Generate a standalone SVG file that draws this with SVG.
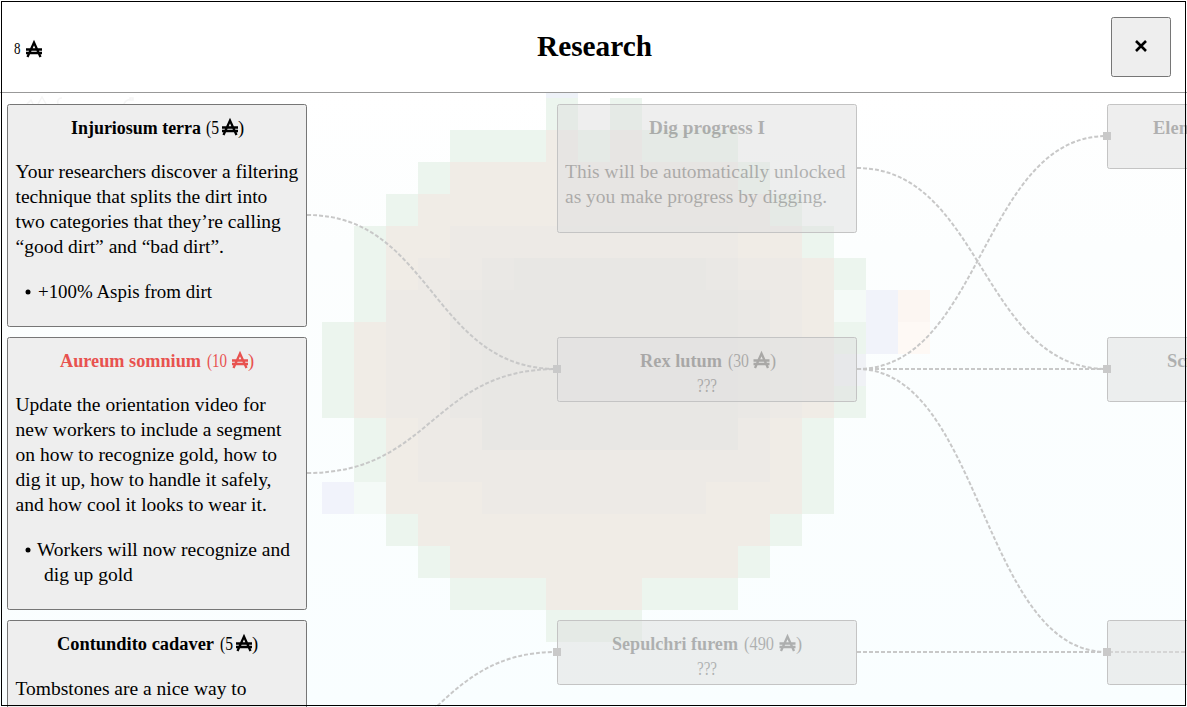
<svg xmlns="http://www.w3.org/2000/svg" width="1187" height="707" viewBox="0 0 1187 707">
<defs>
<linearGradient id="bg" x1="0" y1="93" x2="0" y2="707" gradientUnits="userSpaceOnUse"><stop offset="0" stop-color="#ffffff"/><stop offset="0.25" stop-color="#fcfefe"/><stop offset="1" stop-color="#f9feff"/></linearGradient>
<symbol id="aspis" viewBox="0 0 16 16" overflow="visible"><path d="M1.500 16L8 1.500L14.500 16M0 8.500H16M0 12H16" fill="none" stroke="currentColor" stroke-width="2.300"/></symbol>
</defs>
<style>
text{font-family:"Liberation Serif","DejaVu Serif",serif;fill:#000}
.t{font-size:18.5px;font-weight:700}
.p{font-size:18.5px;font-weight:400}
.b{font-size:19.5px}
.g{fill:#ecf5ee}.tn{fill:#f0ece6}.m{fill:#edeae6}.c{fill:#eae8e5}.d{fill:#e8e7e4}
.card{fill:#eeeeee;stroke:#767676;stroke-width:1}
.ghost{fill:#e0e0e0;fill-opacity:.55;stroke:#c4c4c4;stroke-width:1}
.faded text{opacity:.26}
.faded use{opacity:.26}
.link{fill:none;stroke:#c8c8c8;stroke-width:2;stroke-dasharray:4 2}
.port{fill:#c9c9c9}
</style>
<rect width="1187" height="707" fill="#ffffff"/>
<rect y="93" width="1187" height="614" fill="url(#bg)"/>
<path d="M27 104L31 100L33 104M38 104L42 97L46 104M62 98C58 98 57 101 58 104M124 104C125 100 128 100 131 99M130 98h3v2h-3z" fill="none" stroke="#f5f5f5" stroke-width="1.500"/>
<g id="pixel-art">
<rect x="546" y="93" width="32" height="5" fill="#eef2f8"/><rect class="g" x="546" y="98" width="32" height="32"/><rect class="g" x="610" y="98" width="32" height="32"/>
<rect class="g" x="450" y="130" width="96" height="32"/><rect class="tn" x="546" y="130" width="32" height="32"/><rect class="g" x="578" y="130" width="32" height="32"/><rect class="tn" x="610" y="130" width="32" height="32"/><rect class="g" x="642" y="130" width="96" height="32"/>
<rect class="g" x="418" y="162" width="32" height="32"/><rect class="tn" x="450" y="162" width="288" height="32"/><rect class="g" x="738" y="162" width="32" height="32"/>
<rect class="g" x="386" y="194" width="32" height="32"/><rect class="tn" x="418" y="194" width="352" height="32"/><rect class="g" x="770" y="194" width="32" height="32"/>
<rect class="g" x="354" y="226" width="32" height="96"/><rect class="tn" x="386" y="226" width="416" height="32"/><rect class="g" x="802" y="226" width="32" height="32"/>
<rect class="tn" x="386" y="258" width="448" height="64"/><rect class="g" x="834" y="258" width="32" height="32"/>
<rect x="834" y="290" width="32" height="32" fill="#f4faf7"/><rect x="866" y="290" width="32" height="64" fill="#f1f3fa"/><rect x="898" y="290" width="32" height="32" fill="#fcf6f2"/><rect x="898" y="322" width="32" height="32" fill="#fef9f5"/>
<rect class="g" x="834" y="322" width="32" height="32"/>
<rect class="g" x="322" y="322" width="32" height="96"/><rect class="tn" x="354" y="322" width="480" height="96"/>
<rect x="834" y="354" width="32" height="32" fill="#f0f2f6"/><rect class="g" x="834" y="386" width="32" height="32"/>
<rect class="g" x="354" y="418" width="32" height="64"/><rect class="tn" x="386" y="418" width="416" height="96"/><rect class="g" x="802" y="418" width="32" height="96"/>
<rect x="322" y="482" width="32" height="32" fill="#f1f3fb"/><rect x="354" y="482" width="32" height="32" fill="#f4faf7"/>
<rect class="g" x="386" y="514" width="32" height="32"/><rect class="tn" x="418" y="514" width="352" height="32"/><rect class="g" x="770" y="514" width="32" height="32"/>
<rect class="g" x="418" y="546" width="32" height="32"/><rect class="tn" x="450" y="546" width="288" height="32"/><rect class="g" x="738" y="546" width="32" height="32"/>
<rect class="g" x="450" y="578" width="96" height="32"/><rect class="tn" x="546" y="578" width="96" height="32"/><rect class="g" x="642" y="578" width="96" height="32"/>
<rect class="g" x="546" y="610" width="96" height="32"/>
<rect class="m" x="450" y="226" width="288" height="32"/><rect class="m" x="386" y="290" width="416" height="128"/><rect class="m" x="418" y="258" width="384" height="32"/><rect class="m" x="418" y="418" width="352" height="64"/><rect class="m" x="482" y="482" width="224" height="32"/>
<rect class="c" x="482" y="258" width="256" height="32"/><rect class="c" x="450" y="290" width="320" height="128"/><rect class="c" x="482" y="418" width="256" height="32"/>
<rect class="d" x="514" y="258" width="192" height="32"/><rect class="d" x="482" y="290" width="256" height="160"/>
</g>
<g id="connectors">
<path class="link" d="M307 215C432 215 432 369 557 369"/>
<path class="link" d="M307 473C432 473 432 369 557 369"/>
<path class="link" d="M857 168C982 168 982 369 1107 369"/>
<path class="link" d="M857 369C982 369 982 136 1107 136"/>
<path class="link" d="M857 369H1107"/>
<path class="link" d="M857 369C982 369 982 652 1107 652"/>
<path class="link" d="M857 652H1187"/>
<path class="link" d="M307 770C432 770 432 652 557 652"/>
</g>
<g id="node-dig" class="faded"><rect class="ghost" x="557.500" y="104.500" width="299" height="128" rx="2"/><text class="t" x="649" y="134" textLength="116" lengthAdjust="spacingAndGlyphs">Dig progress I</text><text class="b" x="565" y="178">This will be automatically unlocked</text><text class="b" x="565" y="203">as you make progress by digging.</text></g>
<g id="node-rex" class="faded"><rect class="ghost" x="557.500" y="337.500" width="299" height="64" rx="2"/><text class="t" x="640" y="367" textLength="82" lengthAdjust="spacingAndGlyphs">Rex lutum</text><text class="p" x="728" y="367" textLength="21" lengthAdjust="spacingAndGlyphs">(30</text><use href="#aspis" x="753" y="352" width="17" height="16" color="#000"/><text class="p" x="770" y="367">)</text><text class="p" x="697" y="392" textLength="20" lengthAdjust="spacingAndGlyphs">???</text></g>
<g id="node-sepulchri" class="faded"><rect class="ghost" x="557.500" y="620.500" width="299" height="64" rx="2"/><text class="t" x="612" y="650" textLength="126" lengthAdjust="spacingAndGlyphs">Sepulchri furem</text><text class="p" x="744" y="650" textLength="30" lengthAdjust="spacingAndGlyphs">(490</text><use href="#aspis" x="779" y="635" width="17" height="16" color="#000"/><text class="p" x="796" y="650">)</text><text class="p" x="697" y="675" textLength="20" lengthAdjust="spacingAndGlyphs">???</text></g>
<g id="node-elem" class="faded"><rect class="ghost" x="1107.500" y="104.500" width="299" height="64" rx="2"/><text class="t" x="1153" y="134">Elen</text></g>
<g id="node-sc" class="faded"><rect class="ghost" x="1107.500" y="337.500" width="299" height="64" rx="2"/><text class="t" x="1167" y="367">Sci</text></g>
<g id="node-unknown" class="faded"><rect class="ghost" x="1107.500" y="620.500" width="299" height="64" rx="2"/></g>
<g id="ports">
<rect class="port" x="553" y="365" width="8" height="8"/><rect class="port" x="553" y="648" width="8" height="8"/>
<rect class="port" x="1103" y="132" width="8" height="8"/><rect class="port" x="1103" y="365" width="8" height="8"/><rect class="port" x="1103" y="648" width="8" height="8"/>
</g>
<g id="card-injuriosum"><rect class="card" x="7.500" y="104.500" width="299" height="222" rx="2"/><text class="t" x="71" y="134" textLength="130" lengthAdjust="spacingAndGlyphs">Injuriosum terra</text><text class="p" x="206" y="134" textLength="13" lengthAdjust="spacingAndGlyphs">(5</text><use href="#aspis" x="222" y="119" width="16" height="16" color="#000"/><text class="p" x="238" y="134">)</text>
<text class="b" x="15.500" y="178">Your researchers discover a filtering</text><text class="b" x="15.500" y="203">technique that splits the dirt into</text><text class="b" x="15.500" y="228">two categories that they’re calling</text><text class="b" x="15.500" y="253">“good dirt” and “bad dirt”.</text><circle cx="28" cy="292" r="2.500"/><text class="b" x="38" y="298" textLength="174" lengthAdjust="spacingAndGlyphs">+100% Aspis from dirt</text></g>
<g id="card-aureum"><rect class="card" x="7.500" y="337.500" width="299" height="272" rx="2"/><text class="t" x="60" y="367" textLength="141" lengthAdjust="spacingAndGlyphs" style="fill:#e8524f">Aureum somnium</text><text class="p" x="207" y="367" textLength="20" lengthAdjust="spacingAndGlyphs" style="fill:#e8524f">(10</text><use href="#aspis" x="232" y="352" width="16" height="16" color="#e8524f"/><text class="p" x="248" y="367" style="fill:#e8524f">)</text>
<text class="b" x="15.500" y="411">Update the orientation video for</text><text class="b" x="15.500" y="436">new workers to include a segment</text><text class="b" x="15.500" y="461">on how to recognize gold, how to</text><text class="b" x="15.500" y="486">dig it up, how to handle it safely,</text><text class="b" x="15.500" y="511">and how cool it looks to wear it.</text><circle cx="28" cy="550" r="2.500"/><text class="b" x="37" y="556">Workers will now recognize and</text><text class="b" x="44" y="581">dig up gold</text></g>
<g id="card-contundito"><rect class="card" x="7.500" y="620.500" width="299" height="100" rx="2"/><text class="t" x="57" y="650" textLength="157" lengthAdjust="spacingAndGlyphs">Contundito cadaver</text><text class="p" x="220" y="650" textLength="13" lengthAdjust="spacingAndGlyphs">(5</text><use href="#aspis" x="236" y="635" width="16" height="16" color="#000"/><text class="p" x="252" y="650">)</text><text class="b" x="15.500" y="695">Tombstones are a nice way to</text></g>
<g id="header"><rect width="1187" height="92" fill="#fff"/><line x1="0" x2="1187" y1="92.500" y2="92.500" stroke="#999"/><text x="14" y="53.500" font-size="16" textLength="6.500" lengthAdjust="spacingAndGlyphs">8</text><use href="#aspis" x="26" y="41" width="16" height="16" color="#000"/><text x="537" y="56" font-size="30" font-weight="700" textLength="115" lengthAdjust="spacingAndGlyphs">Research</text></g>
<g id="close-button"><rect class="card" x="1111.500" y="17.500" width="59" height="59" rx="2"/><path d="M1136 41L1146 51M1146 41L1136 51" stroke="#000" stroke-width="2.600" fill="none"/></g>
<rect x="1.500" y="1.500" width="1184" height="704" fill="none" stroke="#000" stroke-width="1"/>
</svg>
